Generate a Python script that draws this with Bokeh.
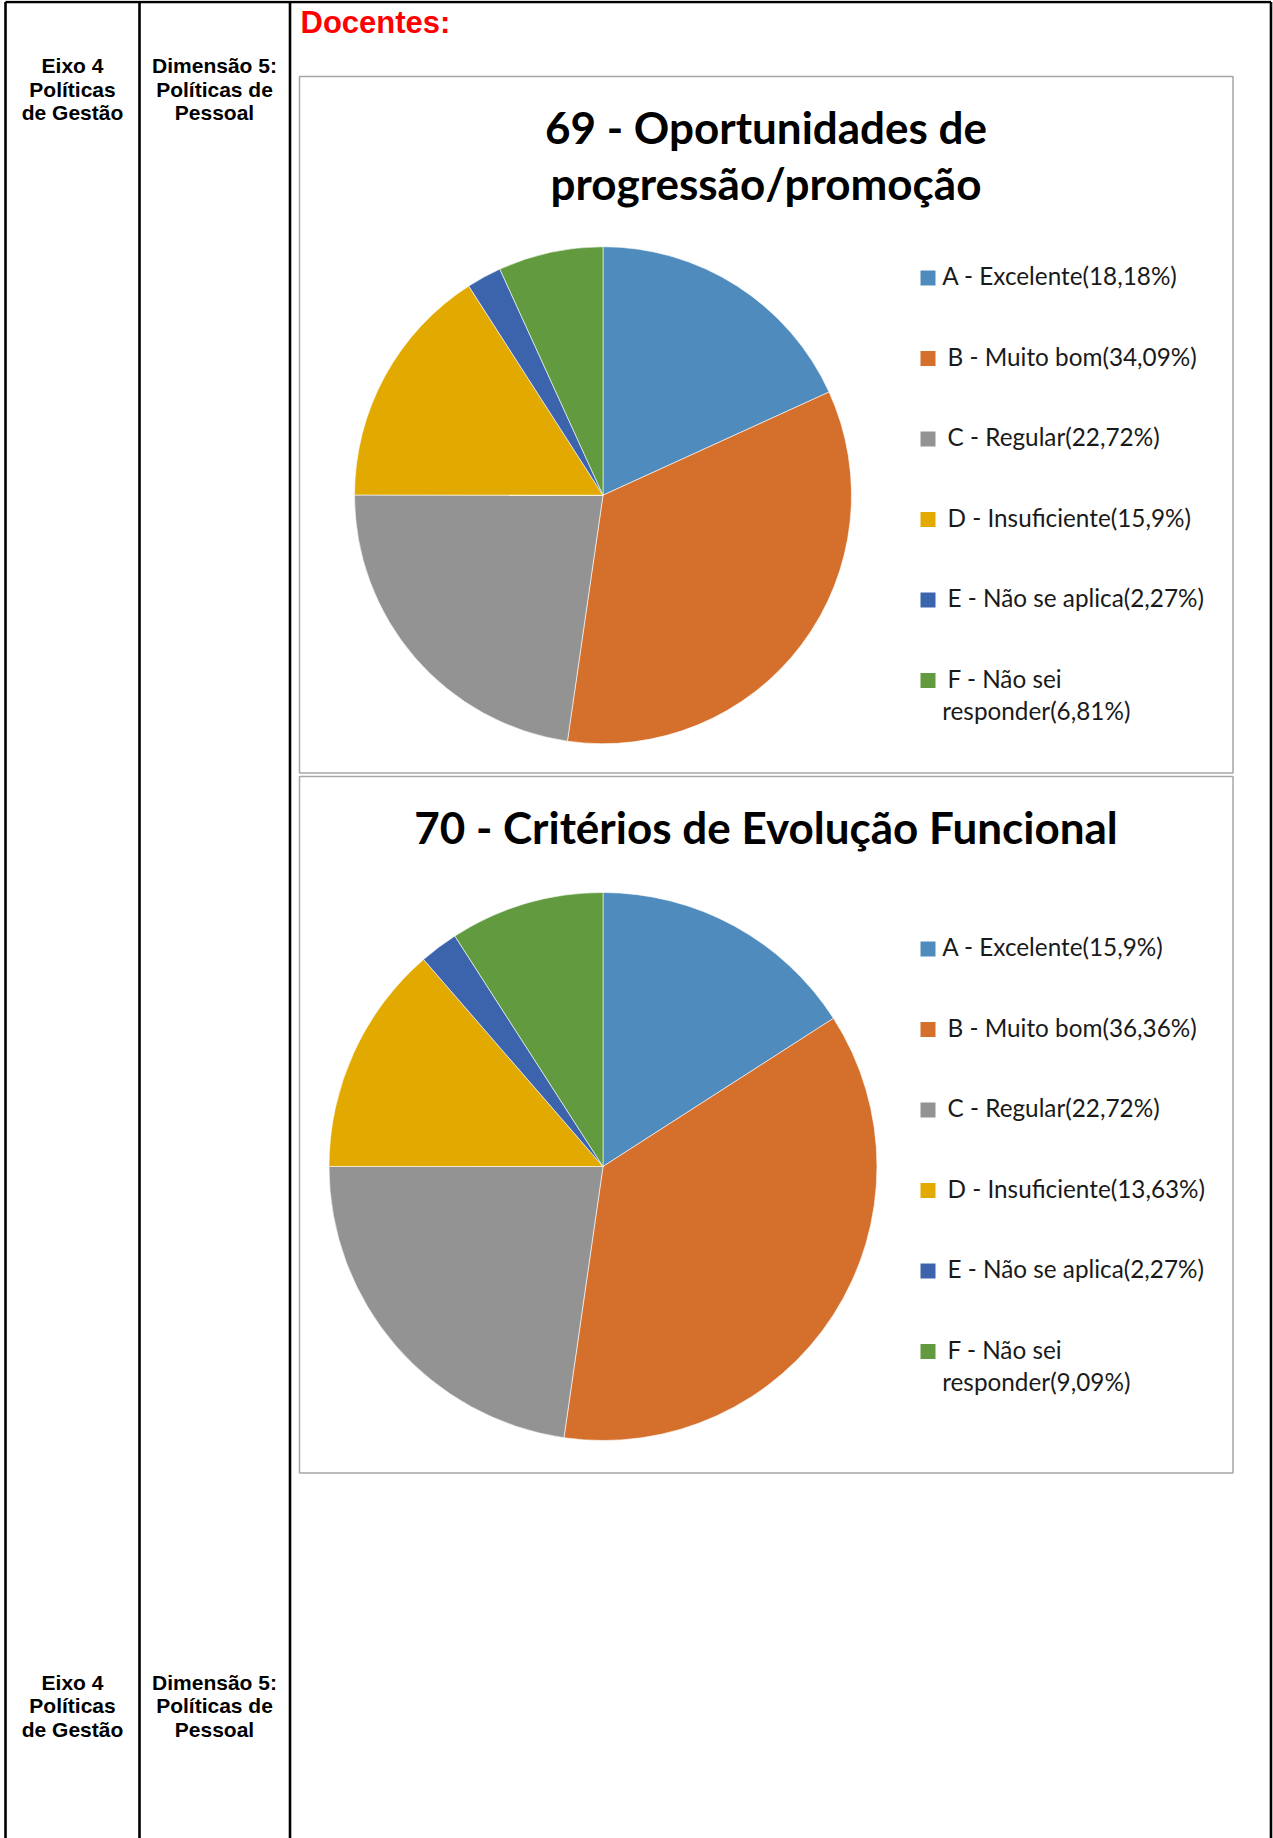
import math
from bokeh.plotting import figure
from bokeh.models import Range1d
from bokeh.core.properties import value
from bokeh.embed import file_html
from bokeh.resources import INLINE

# ---------------- data ----------------
categories = ["A - Excelente", " B - Muito bom", " C - Regular", " D - Insuficiente",
              " E - Não se aplica", " F - Não sei responder"]
colors = ["#4F8BBD", "#D46F2C", "#939393", "#E2AA00", "#3B64AD", "#629A40"]
values_69 = [18.18, 34.09, 22.72, 15.9, 2.27, 6.81]
values_70 = [15.9, 36.36, 22.72, 13.63, 2.27, 9.09]
title_69 = ["69 - Oportunidades de", "progressão/promoção"]
title_70 = ["70 - Critérios de Evolução Funcional"]
eixo_lines = ["Eixo 4", "Políticas", "de Gestão"]
dim_lines = ["Dimensão 5:", "Políticas de", "Pessoal"]
heading = "Docentes:"

# ---------------- canvas ----------------
W, H = 1273, 1838
OFF = 0


def X(rx):
    return rx - OFF


def Y(ry):
    return H - (ry - OFF)


def TB(ry, size, k):
    # baseline position corrected for the renderer's text offset
    return Y(ry - k * size)


p = figure(width=W, height=H, x_range=Range1d(0, W), y_range=Range1d(0, H),
           output_backend="svg", toolbar_location=None, min_border=0)
p.axis.visible = False
p.grid.visible = False
p.outline_line_color = None
p.background_fill_color = "white"
p.border_fill_color = "white"

# table lines
vx = [X(5), X(139), X(289.5), X(1270.5)]
p.segment(x0=vx, y0=[Y(1.5)] * 4, x1=vx, y1=[0] * 4,
          line_color="black", line_width=2.6)
p.segment(x0=[X(5)], y0=[Y(1.5)], x1=[X(1270.5)], y1=[Y(1.5)],
          line_color="black", line_width=2.6)

# row header texts
arial = value("Liberation Sans")
KA = 0.35
for top_base in (72.7, 1689.5):
    ys = [TB(top_base + i * 23.3, 21, KA) for i in range(3)]
    p.text(x=[X(72)] * 3, y=ys, text=eixo_lines, text_align="center",
           text_baseline="alphabetic", text_font=arial, text_font_style="bold",
           text_font_size="21px", text_color="black")
    p.text(x=[X(214)] * 3, y=ys, text=dim_lines, text_align="center",
           text_baseline="alphabetic", text_font=arial, text_font_style="bold",
           text_font_size="21px", text_color="black")

p.text(x=[X(300)], y=[TB(33, 31, KA)], text=[heading], text_align="left",
       text_baseline="alphabetic", text_font=arial, text_font_style="bold",
       text_font_size="31px", text_color="#FF0000")

lato = value("Lato")
KL = 0.44
TS = 44
LS = 24.3


def wrap(label, limit=25):
    if len(label) <= limit:
        return [label]
    cut = label.rfind(" ", 0, limit)
    return [label[:cut], label[cut + 1:]]


def fmt(v):
    s = ("%.2f" % v).rstrip("0").rstrip(".")
    return s.replace(".", ",")


def chart(box_top, box_bottom, title_lines, title_base, title_step,
          cx, cy, r, vals, leg_top, leg_step):
    # chart frame
    p.quad(left=[X(299)], right=[X(1232.5)], top=[Y(box_top)], bottom=[Y(box_bottom)],
           fill_color="white", line_color="#A6A6A6", line_width=1.5)
    # title
    p.text(x=[X(765.5)] * len(title_lines),
           y=[TB(title_base + i * title_step, TS, KL) for i in range(len(title_lines))],
           text=title_lines, text_align="center", text_baseline="alphabetic",
           text_font=lato, text_font_style="bold", text_font_size="%spx" % TS,
           text_color="black")
    # pie
    total = sum(vals)
    cum = 0.0
    starts, ends = [], []
    for v in vals:
        a0 = cum / total
        cum += v
        a1 = cum / total
        starts.append(math.pi / 2 - 2 * math.pi * a1)
        ends.append(math.pi / 2 - 2 * math.pi * a0)
    p.wedge(x=[X(cx)] * len(vals), y=[Y(cy)] * len(vals), radius=r,
            start_angle=starts, end_angle=ends, fill_color=colors,
            line_color="white", line_width=0.6)
    # legend
    for i, (cat, v, col) in enumerate(zip(categories, vals, colors)):
        cyl = leg_top + i * leg_step
        p.rect(x=[X(927.5)], y=[Y(cyl)], width=15, height=15,
               fill_color=col, line_color=None)
        label = "%s(%s%%)" % (cat, fmt(v))
        lead = label.startswith(" ")
        lines = wrap(label.strip())
        for j, ln in enumerate(lines):
            tx = 947 if (lead and j == 0) else 941.7
            p.text(x=[X(tx)], y=[TB(cyl + j * 31.7 + 8.5, LS, KL)], text=[ln],
                   text_align="left", text_baseline="alphabetic",
                   text_font=lato, text_font_size="%spx" % LS, text_color="#1A1A1A")


chart(76, 772.5, title_69, 146, 56, 602.5, 494.7, 248.5, values_69, 277.5, 80.5)
chart(776, 1472.5, title_70, 845.5, 56, 602.5, 1166, 274, values_70, 948.5, 80.5)

open("out.html", "w").write(file_html(p, INLINE))
